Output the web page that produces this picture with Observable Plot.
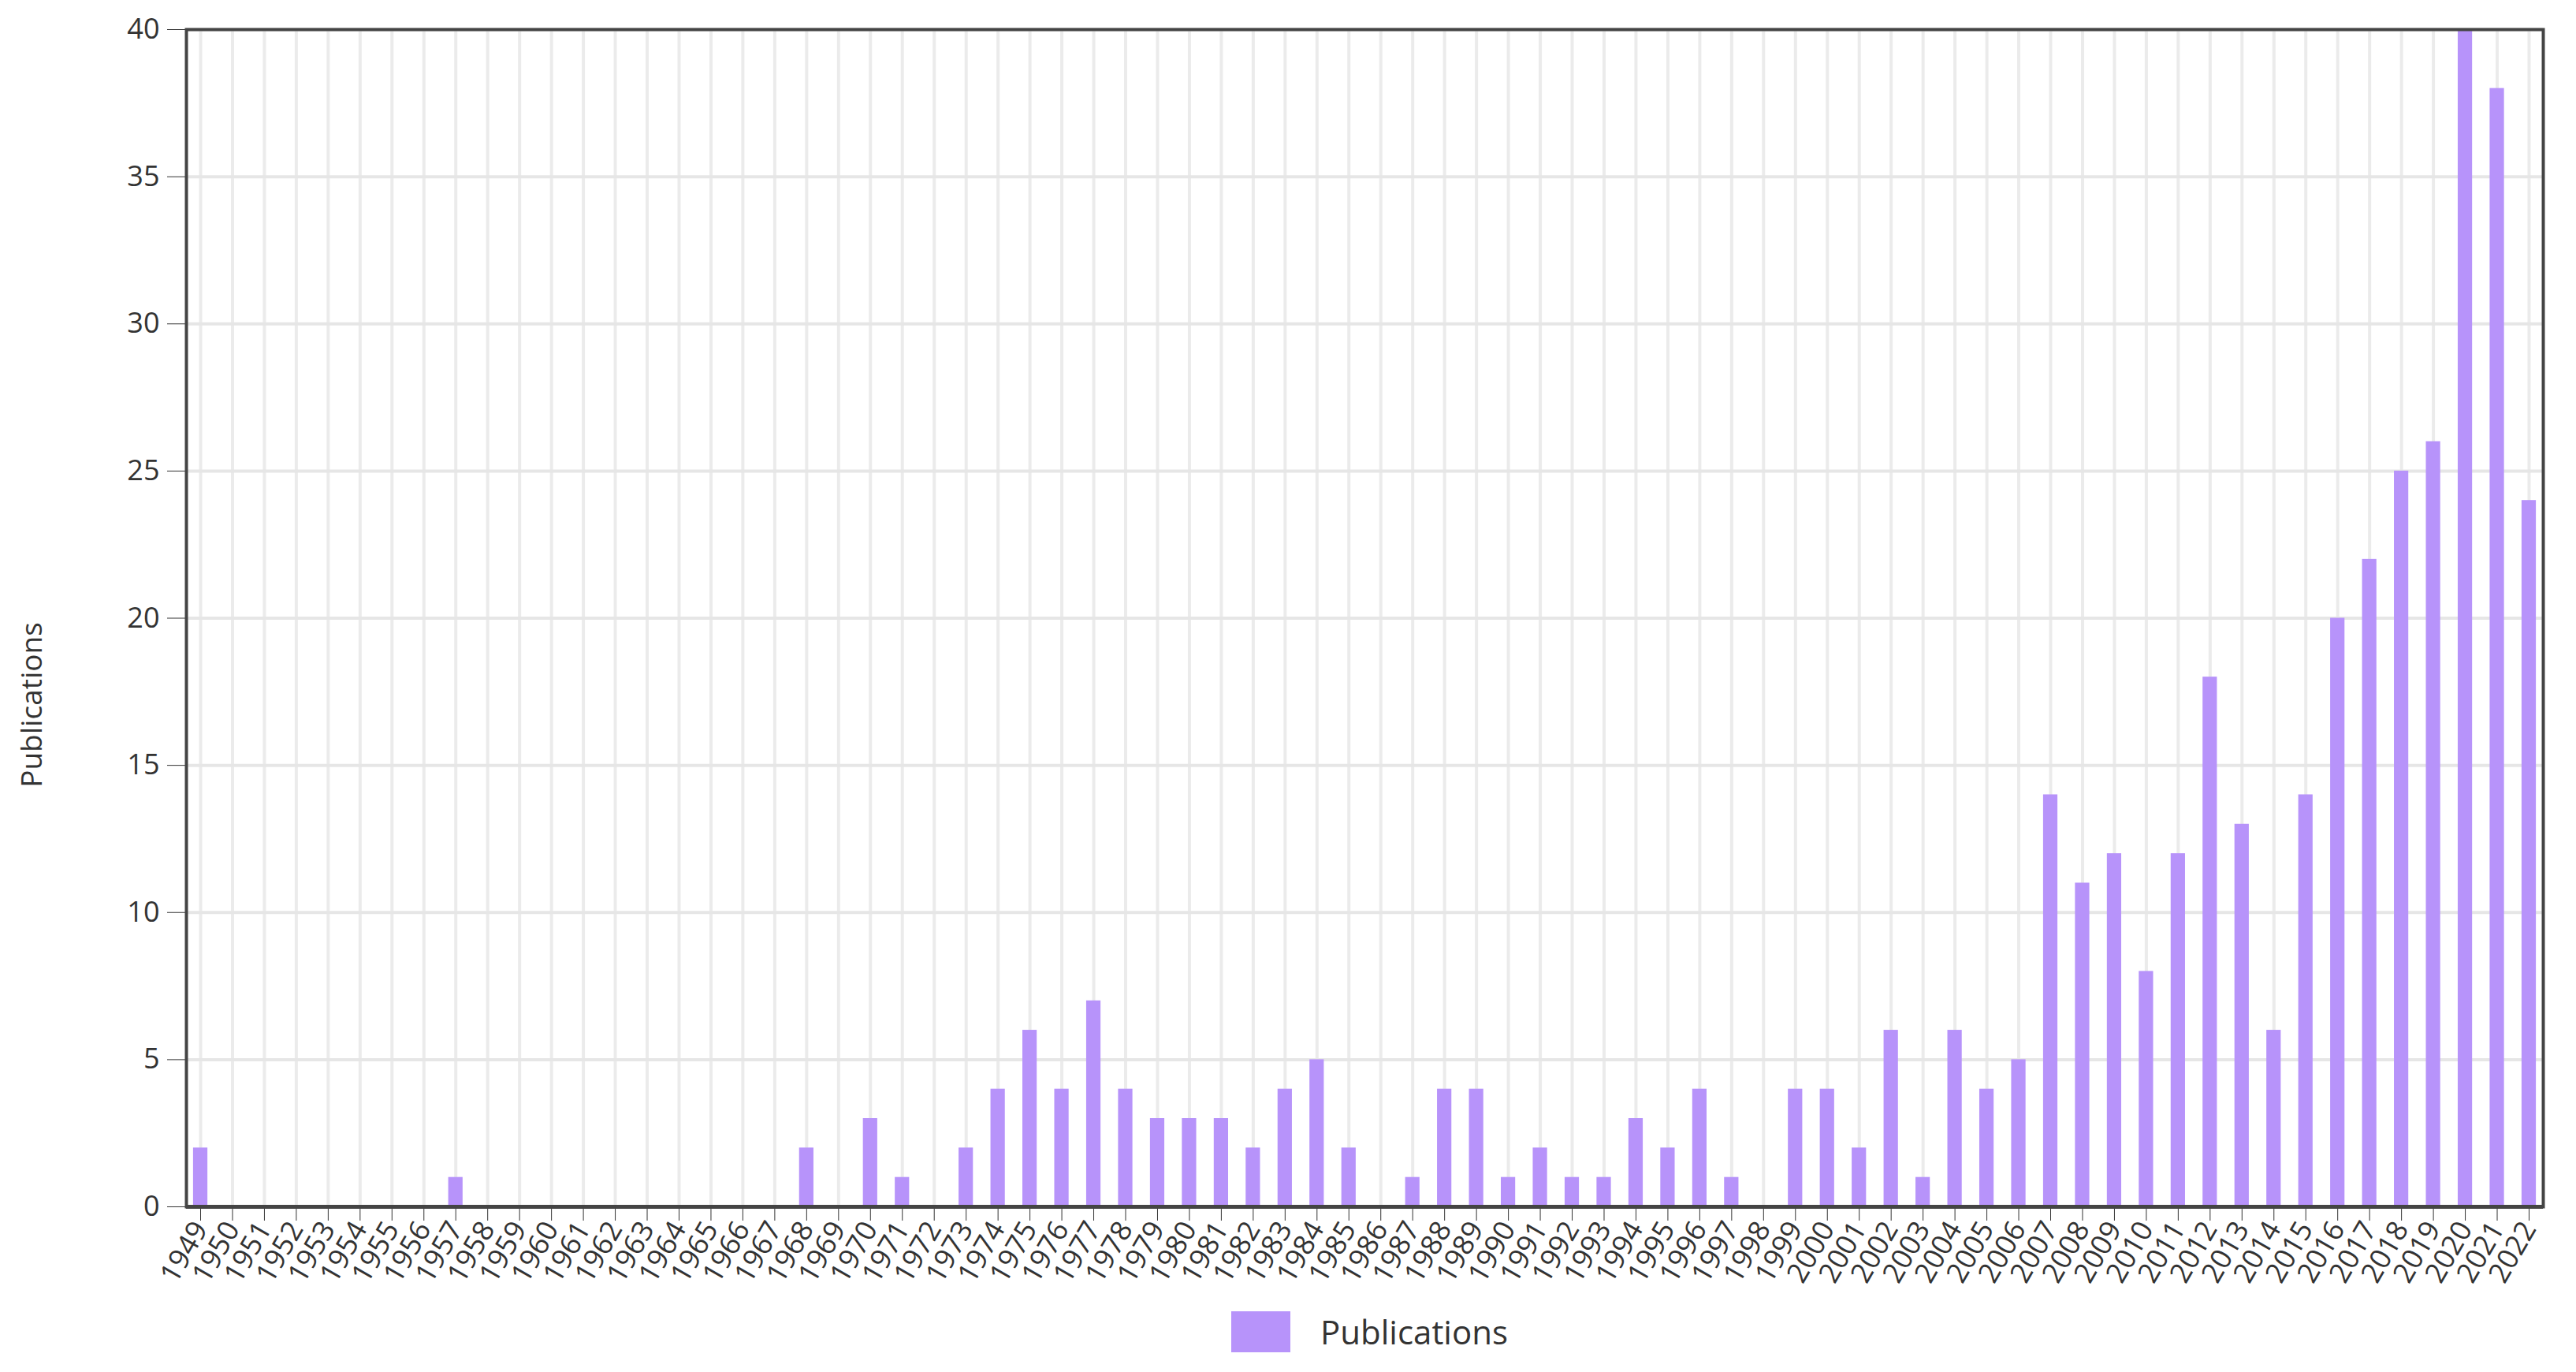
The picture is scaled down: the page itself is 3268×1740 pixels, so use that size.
<!DOCTYPE html>
<html>
<head>
<meta charset="utf-8">
<script src="https://cdn.jsdelivr.net/npm/d3@7"></script>
<script src="https://cdn.jsdelivr.net/npm/@observablehq/plot@0.6"></script>
<style>
  body { margin: 0; background: #fff; font-family: "Open Sans", sans-serif; color: #333; }
  #wrap { position: relative; width: 3268px; height: 1740px; }
  #ytitle { position: absolute; left: 38px; top: 894px; transform: translate(-50%, -50%) rotate(-90deg); font-size: 37px; white-space: nowrap; color: #333; }
  #legend { position: absolute; left: 1562px; top: 1660px; display: flex; align-items: center; }
  #legend .sw { width: 75px; height: 52px; margin-right: 38px; }
  #legend .lbl { font-size: 42px; color: #333; }
</style>
</head>
<body>
<div id="wrap">
  <div id="chart"></div>
  <div id="ytitle">Publications</div>
  <div id="legend"><div class="sw"></div><div class="lbl">Publications</div></div>
</div>
<script>
const years = [
  "1949","1950","1951","1952","1953","1954","1955","1956","1957","1958",
  "1959","1960","1961","1962","1963","1964","1965","1966","1967","1968",
  "1969","1970","1971","1972","1973","1974","1975","1976","1977","1978",
  "1979","1980","1981","1982","1983","1984","1985","1986","1987","1988",
  "1989","1990","1991","1992","1993","1994","1995","1996","1997","1998",
  "1999","2000","2001","2002","2003","2004","2005","2006","2007","2008",
  "2009","2010","2011","2012","2013","2014","2015","2016","2017","2018",
  "2019","2020","2021","2022"
];
const publications = [
  2,0,0,0,0,0,0,0,1,0,
  0,0,0,0,0,0,0,0,0,2,
  0,3,1,0,2,4,6,4,7,4,
  3,3,3,2,4,5,2,0,1,4,
  4,1,2,1,1,3,2,4,1,0,
  4,4,2,6,1,6,4,5,14,11,
  12,8,12,18,13,6,14,20,22,25,
  26,40,38,24
];
const yTicks = [0, 5, 10, 15, 20, 25, 30, 35, 40];
const seriesName = "Publications";
const barColor = "#b793fa";

document.querySelector("#legend .sw").style.background = barColor;

const data = years.map((y, i) => ({year: y, value: publications[i]}));

const chart = Plot.plot({
  width: 3268,
  height: 1650,
  marginTop: 37,
  marginBottom: 120,
  marginLeft: 236,
  marginRight: 42,
  style: { fontFamily: "Open Sans, sans-serif", fontSize: "36px", color: "#333", background: "#fff" },
  x: {
    type: "band",
    domain: years,
    round: false,
    paddingInner: 0.55,
    paddingOuter: 0.22,
    tickRotate: -60,
    tickSize: 18,
    tickPadding: 4,
    label: null
  },
  y: {
    domain: [0, 40],
    ticks: yTicks,
    tickSize: 24,
    tickPadding: 10,
    label: null
  },
  marks: [
    Plot.ruleX(data, { x: "year", stroke: "#ebebeb", strokeWidth: 4 }),
    Plot.ruleY(yTicks, { stroke: "#e6e6e6", strokeWidth: 4 }),
    Plot.barY(data, { x: "year", y: "value", fill: barColor }),
    Plot.frame({ stroke: "#444", strokeWidth: 4 }),
    Plot.ruleY([0], { stroke: "#444", strokeWidth: 5 })
  ]
});
document.getElementById("chart").appendChild(chart);
</script>
</body>
</html>
